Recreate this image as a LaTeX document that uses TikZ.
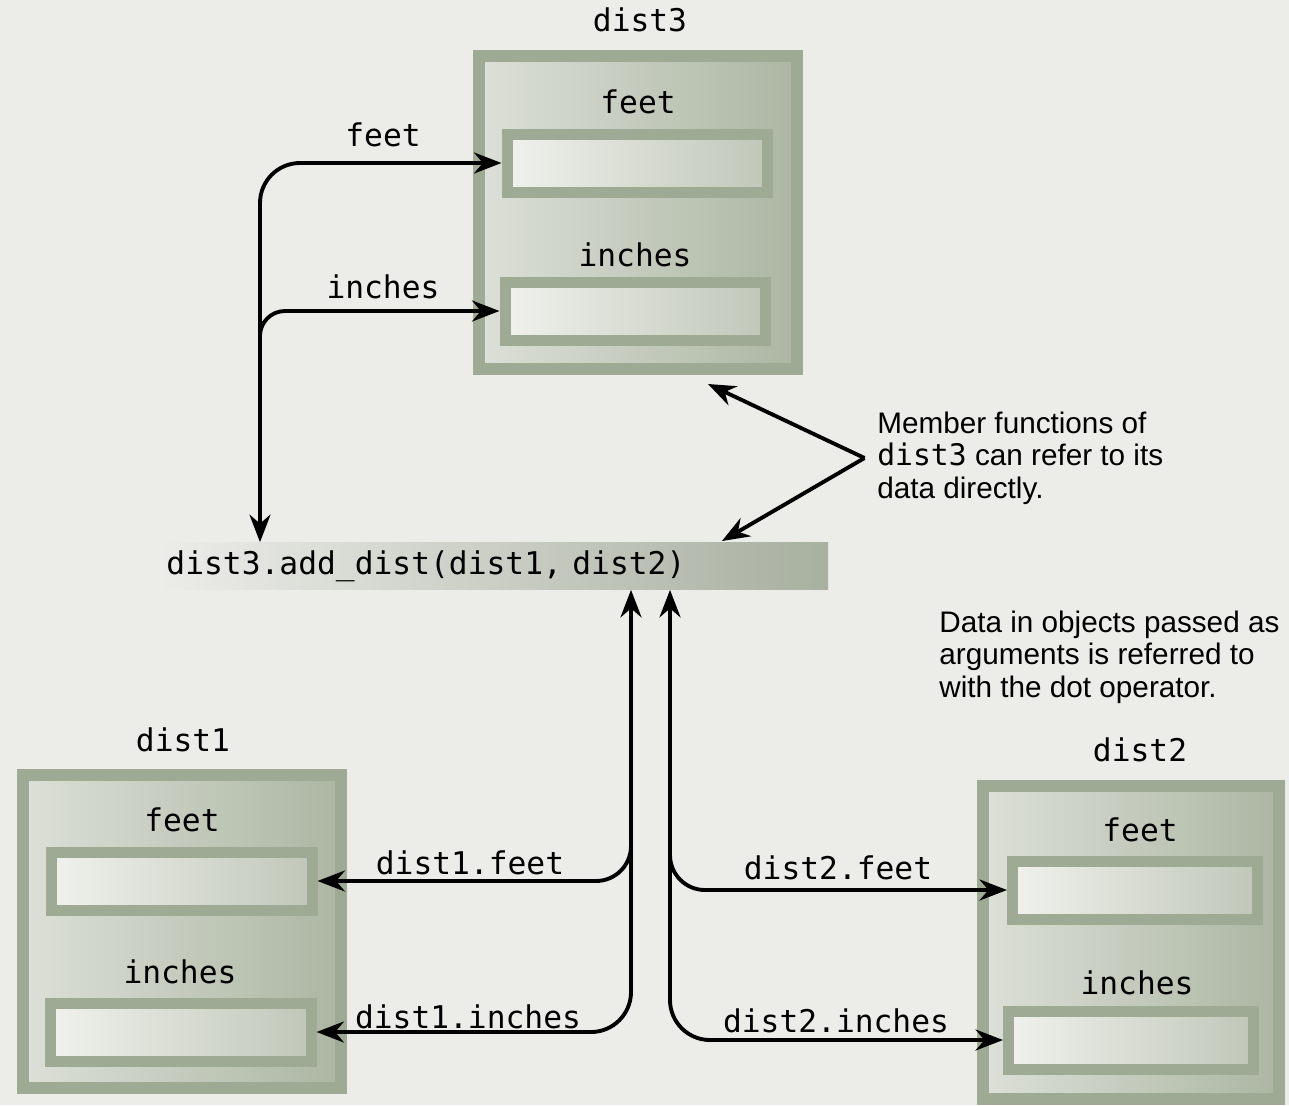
\documentclass[tikz,border=0pt]{standalone}
\usepackage{fontspec}
\setmainfont{Liberation Sans}
\setmonofont{DejaVu Sans Mono}
\usetikzlibrary{arrows.meta,positioning}
\definecolor{paper}{RGB}{236,236,233}
\definecolor{objframe}{RGB}{158,170,148}
\definecolor{objlight}{RGB}{220,224,216}
\definecolor{objdark}{RGB}{172,182,162}
\definecolor{fieldlight}{RGB}{240,241,237}
\definecolor{fielddark}{RGB}{192,199,184}
\definecolor{bardark}{RGB}{168,176,160}
\newcommand{\codefont}{\ttfamily\fontsize{17.8}{20}\selectfont}
\newcommand{\notefont}{\fontsize{16.9}{18.6}\selectfont}
\tikzset{
  link/.style={line width=2.2pt},
  objbox/.style={draw=objframe,line width=2.4mm,left color=objlight,right color=objdark,
                 minimum width=63.6mm,minimum height=62.6mm},
  fieldbox/.style={draw=objframe,line width=2.2mm,left color=fieldlight,right color=fielddark,
                   minimum width=52mm,minimum height=11.6mm},
  callbar/.style={left color=paper,right color=bardark,minimum height=9.4mm,
                  text width=131mm,align=left,inner xsep=1.3mm,font=\codefont},
  code/.style={font=\codefont,inner sep=0pt},
  note/.style={font=\notefont,align=left,inner sep=0pt}
}

\begin{document}
\begin{tikzpicture}[x=0.2mm,y=-0.2mm,>={Stealth[length=5.5mm,width=4.2mm]}]
  \clip (0,0) rectangle (1289,1105);
  \fill[paper] (0,0) rectangle (1289,1105);

  % the object add_dist() is called for
  \node[code] (d3name) at (640,20) {dist3};
  \node[objbox] (d3) at (638,212) {};
  \node[code] (d3feetlbl) at (638,102) {feet};
  \node[fieldbox] (d3feet) at (637,163) {};
  \node[code] (d3inchlbl) at (635,255) {inches};
  \node[fieldbox] (d3inches) at (635,311) {};

  % the two arguments
  \node[code] (d1name) at (183,740) {dist1};
  \node[objbox] (d1) at (182,931) {};
  \node[code] (d1feetlbl) at (182,820) {feet};
  \node[fieldbox] (d1feet) at (182,881) {};
  \node[code] (d1inchlbl) at (180,972) {inches};
  \node[fieldbox] (d1inches) at (181,1032) {};

  \node[code] (d2name) at (1140,750) {dist2};
  \node[objbox,minimum width=59.2mm] (d2) at (1131,942) {};
  \node[code] (d2feetlbl) at (1140,830) {feet};
  \node[fieldbox,minimum width=49mm] (d2feet) at (1135,890) {};
  \node[code] (d2inchlbl) at (1137,983) {inches};
  \node[fieldbox,minimum width=49mm] (d2inches) at (1131,1040) {};

  \node[callbar] (call) at (494,566) {dist3.add\_dist(dist1, dist2)};

  % member access
  \coordinate (t3) at (260,0);
  \coordinate (t3fork) at (260,345);
  \draw[link,<->,rounded corners=8mm] (call.north -| t3) |- (d3feet.west);
  \draw[link,->,rounded corners=5mm] (t3fork) |- (d3inches.west);
  \node[code] (feetlbl) at (383,135) {feet};
  \node[code] (inchlbl) at (383,287) {inches};

  % argument access
  \coordinate (t1) at (631,0);
  \coordinate (t1fork) at (631,843);
  \coordinate (t2) at (670,0);
  \coordinate (t2fork) at (670,850);
  \draw[link,<->,rounded corners=8mm] (call.south -| t1) |- (d1inches.east);
  \draw[link,->,rounded corners=7mm] (t1fork) |- (d1feet.east);
  \draw[link,<->,rounded corners=8mm] (call.south -| t2) |- (d2inches.west);
  \draw[link,->,rounded corners=7mm] (t2fork) |- (d2feet.west);
  \node[code] (d1flbl) at (470,863) {dist1.feet};
  \node[code] (d1ilbl) at (468,1017) {dist1.inches};
  \node[code] (d2flbl) at (838,868) {dist2.feet};
  \node[code] (d2ilbl) at (836,1021) {dist2.inches};

  % notes
  \node[note,anchor=west] (memo) at (877,458)
    {Member functions of\\\texttt{dist3} can refer to its\\data directly.};
  \coordinate (memtip) at ([xshift=-2.5mm]memo.west);
  \coordinate (d3hit) at (708,384);
  \coordinate (callhit) at (722,541);
  \draw[link,->] (memtip) -- (d3hit);
  \draw[link,->] (memtip) -- (callhit);

  \node[note,anchor=west] (dotnote) at (939,657)
    {Data in objects passed as\\arguments is referred to\\with the dot operator.};
\end{tikzpicture}
\end{document}
